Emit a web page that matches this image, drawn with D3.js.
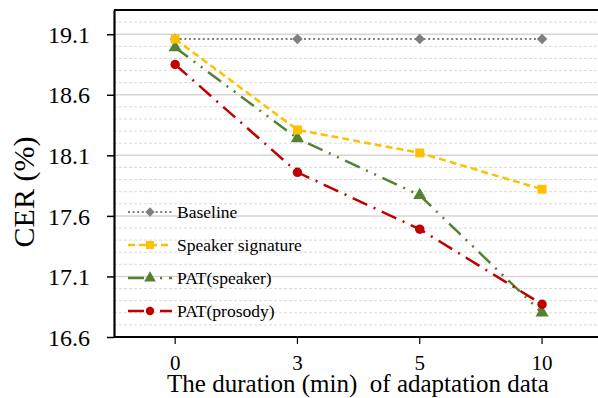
<!DOCTYPE html>
<html>
<head>
<meta charset="utf-8">
<script src="https://cdn.jsdelivr.net/npm/d3@7"></script>
<style>
  body { margin: 0; background: #fff; }
  svg { display: block; font-family: "Liberation Serif", "Times New Roman", serif; }
</style>
</head>
<body>
<div id="chart"></div>
<script>
const durations = ["0", "3", "5", "10"];
const baseline = [19.06, 19.06, 19.06, 19.06];
const speakerSignature = [19.06, 18.31, 18.12, 17.82];
const patSpeaker = [18.99, 18.24, 17.77, 16.80];
const patProsody = [18.85, 17.96, 17.49, 16.87];
const yTicks = [16.6, 17.1, 17.6, 18.1, 18.6, 19.1];

const width = 598, height = 398;
const margin = { top: 10, left: 114, bottom: 337 };

const series = [
    { name: "Baseline", values: baseline, color: "#7f7f7f", dash: "2,2.6", width: 2, shape: d3.symbolDiamond2, size: 70, order: 0 },
    { name: "Speaker signature", values: speakerSignature, color: "#FFC000", dash: "7,4", width: 2.5, shape: d3.symbolSquare, size: 80, order: 3 },
    { name: "PAT(speaker)", values: patSpeaker, color: "#548235", dash: "16,7,2,7,2,7", width: 2.5, shape: d3.symbolTriangle, size: 75, order: 1 },
    { name: "PAT(prosody)", values: patProsody, color: "#C00000", dash: "16,7,2,7", width: 2.5, shape: d3.symbolCircle, size: 70, order: 2 }
];

const svg = d3.select("#chart")
    .append("svg")
    .attr("width", width)
    .attr("height", height);

const x = d3.scaleBand()
    .domain(durations)
    .range([margin.left, margin.left + 4 * 122.3]);

const y = d3.scaleLinear()
    .domain([16.6, 19.3])
    .range([margin.bottom, margin.top]);

// gridlines: dashed every 0.1, solid at labelled ticks
const minor = d3.range(167, 193).map(v => v / 10).filter(v => !yTicks.some(t => Math.abs(t - v) < 1e-6));
svg.append("g").selectAll("line")
    .data(minor)
    .enter().append("line")
    .attr("x1", margin.left).attr("x2", width)
    .attr("y1", d => y(d)).attr("y2", d => y(d))
    .attr("stroke", "#dadada")
    .attr("stroke-width", 1)
    .attr("stroke-dasharray", "3,2");

svg.append("g").selectAll("line")
    .data(yTicks.slice(1))
    .enter().append("line")
    .attr("x1", margin.left).attr("x2", width)
    .attr("y1", d => y(d)).attr("y2", d => y(d))
    .attr("stroke", "#d6d6d6")
    .attr("stroke-width", 1.5);

// frame
svg.append("line")
    .attr("x1", margin.left).attr("x2", width)
    .attr("y1", margin.top).attr("y2", margin.top)
    .attr("stroke", "#000").attr("stroke-width", 2);

// axes
const yAxis = svg.append("g")
    .attr("transform", `translate(${margin.left},0)`)
    .call(d3.axisLeft(y).tickValues(yTicks).tickFormat(d3.format(".1f")).tickSize(7).tickSizeOuter(0));
yAxis.select(".domain").attr("stroke-width", 2.2);
yAxis.selectAll(".tick line").attr("stroke-width", 1.5);
yAxis.selectAll(".tick text")
    .attr("x", -24)
    .attr("dy", "0.34em")
    .style("font-size", "24px")
    .style("font-family", "Liberation Serif");

const xAxis = svg.append("g")
    .attr("transform", `translate(0,${margin.bottom})`)
    .call(d3.axisBottom(x).tickSize(7).tickSizeOuter(0));
xAxis.select(".domain").attr("d", `M${margin.left},0H${width}`).attr("stroke-width", 2.2);
xAxis.selectAll(".tick line").attr("stroke-width", 1.2);
xAxis.selectAll(".tick text")
    .attr("y", 33)
    .attr("dy", 0)
    .style("font-size", "21px")
    .style("font-family", "Liberation Serif");

// axis titles
svg.append("text")
    .attr("transform", "translate(34,192) rotate(-90)")
    .attr("text-anchor", "middle")
    .style("font-size", "30px")
    .text("CER (%)");

svg.append("text")
    .attr("x", 358)
    .attr("y", 392)
    .attr("text-anchor", "middle")
    .style("font-size", "25px")
    .attr("xml:space", "preserve")
    .text("The duration (min)  of adaptation data");

// lines and markers
const line = d3.line()
    .x((d, i) => x(durations[i]) + x.bandwidth() / 2)
    .y(d => y(d));

const drawOrder = series.slice().sort((a, b) => a.order - b.order);
drawOrder.forEach(s => {
    const g = svg.append("g");
    g.append("path")
        .datum(s.values)
        .attr("fill", "none")
        .attr("stroke", s.color)
        .attr("stroke-width", s.width)
        .attr("stroke-dasharray", s.dash)
        .attr("d", line);
    g.selectAll("path.marker")
        .data(s.values)
        .enter().append("path")
        .attr("class", "marker")
        .attr("d", d3.symbol().type(s.shape).size(s.size))
        .attr("transform", (d, i) => `translate(${x(durations[i]) + x.bandwidth() / 2},${y(d)})`)
        .attr("fill", s.color);
});

// legend
const legend = svg.append("g");
const rowY = [212, 245, 278, 311];
series.forEach((s, i) => {
    const row = legend.append("g").attr("transform", `translate(0,${rowY[i]})`);
    row.append("line")
        .attr("x1", 128).attr("x2", 172)
        .attr("stroke", s.color)
        .attr("stroke-width", s.width)
        .attr("stroke-dasharray", s.dash);
    row.append("path")
        .attr("d", d3.symbol().type(s.shape).size(s.size * 0.8))
        .attr("transform", "translate(150,0)")
        .attr("fill", s.color);
    row.append("text")
        .attr("x", 177)
        .attr("dy", "0.35em")
        .style("font-size", "17.5px")
        .text(s.name);
});
</script>
</body>
</html>
